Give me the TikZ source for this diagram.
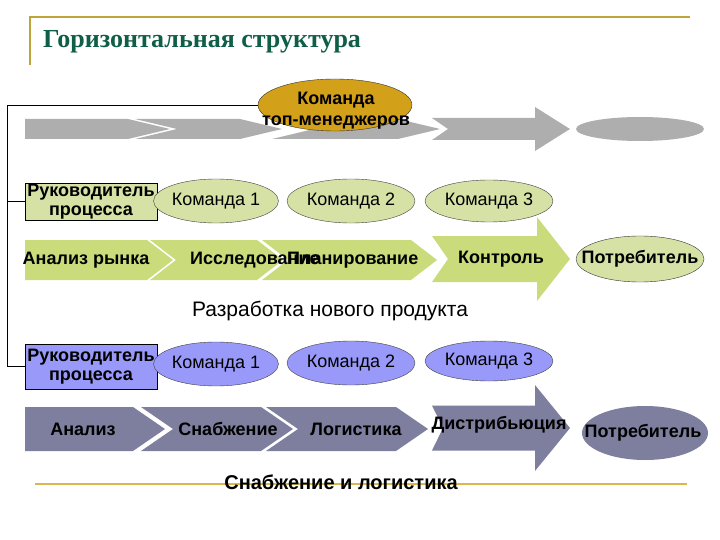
\documentclass[tikz,border=0pt]{standalone}
\usepackage{fontspec}
\setmainfont{Liberation Serif}
\setsansfont{Liberation Sans}
\usetikzlibrary{shapes.geometric}

\definecolor{titlegreen}{HTML}{0F5E48}
\definecolor{rulegold}{HTML}{BFA43C}
\definecolor{linegold}{HTML}{D8B74C}
\definecolor{topgold}{HTML}{D2A019}
\definecolor{flowgray}{HTML}{AEAEAE}
\definecolor{leafgreen}{HTML}{D6E1A6}
\definecolor{flowgreen}{HTML}{C9DB7A}
\definecolor{teamblue}{HTML}{9999FA}
\definecolor{flowslate}{HTML}{7E7E9E}

\tikzset{x=1pt, y=-1pt,
  team/.style={ellipse, draw=black!75, inner sep=0pt, minimum height=44pt,
    font=\sffamily\fontsize{18}{20}\selectfont},
  lead/.style={draw=black, rectangle, align=center, inner sep=0pt, minimum width=132pt,
    font=\sffamily\bfseries\fontsize{18}{19}\selectfont},
  tag/.style={inner sep=0pt, font=\sffamily\bfseries\fontsize{18}{21}\selectfont},
  caption/.style={inner sep=0pt, font=\sffamily\fontsize{21}{23}\selectfont}
}

% chevron: fill, left x, tip x, centre y, half height, tip depth, notch depth
\newcommand{\chev}[7]{\fill[#1] (#2,#4-#5) -- (#3-#6,#4-#5) -- (#3,#4) -- (#3-#6,#4+#5)
  -- (#2,#4+#5) -- (#2+#7,#4) -- cycle;}
% block arrow: fill, tail x, notch, head base x, tip x, centre y, shaft half, head half
\newcommand{\blockarr}[8]{\fill[#1] (#2,#6-#7) -- (#4,#6-#7) -- (#4,#6-#8) -- (#5,#6)
  -- (#4,#6+#8) -- (#4,#6+#7) -- (#2,#6+#7) -- (#2+#3,#6) -- cycle;}

\begin{document}
\begin{tikzpicture}
\useasboundingbox (0,0) rectangle (720,540);

% title
\draw[rulegold, line width=1.6pt] (30,65) -- (30,17) -- (690,17);
\node[anchor=west, inner sep=0pt, text=titlegreen,
  font=\bfseries\fontsize{26}{30}\selectfont] (title) at (43,42) {Горизонтальная структура};

% grey row
\chev{flowgray}{25}{170}{129}{10}{42}{0}
\chev{flowgray}{135}{282}{129}{10}{42}{42}
\chev{flowgray}{272}{440}{129}{10}{42}{42}
\blockarr{flowgray}{432}{16}{535}{570}{129}{11}{22}
\node[ellipse, fill=flowgray, minimum width=128pt, minimum height=24pt] (sink0) at (640,129) {};

% process leads and teams
\node[lead, fill=leafgreen, minimum height=37pt] (lead1) at (91,201.5) {Руководитель\\процесса};
\node[team, fill=leafgreen, minimum width=122pt] (t11) at (216,201) {Команда 1};
\node[team, fill=leafgreen, minimum width=128pt] (t12) at (351,201) {Команда 2};
\node[team, fill=leafgreen, minimum width=128pt, minimum height=42pt] (t13) at (489,201) {Команда 3};

\node[lead, fill=teamblue, minimum height=45pt] (lead2) at (91,366.5) {Руководитель\\процесса};
\node[team, fill=teamblue, minimum width=122pt] (t21) at (216,364) {Команда 1};
\node[team, fill=teamblue, minimum width=128pt] (t22) at (351,363) {Команда 2};
\node[team, fill=teamblue, minimum width=128pt, minimum height=40pt] (t23) at (489,361) {Команда 3};

% top team and its links
\node[ellipse, draw=black!80, fill=topgold, minimum width=154pt, minimum height=52pt] (top) at (335,105) {};
\coordinate (rail) at (7,105);
\draw[line width=0.8pt] (top.west) -- (rail) |- (lead2.west);
\draw[line width=0.8pt] (rail |- lead1.west) -- (lead1.west);
\node[tag, align=center] (toptext) at (336,111) {Команда\\топ-менеджеров};

% new product row
\chev{flowgreen}{25}{173}{260}{20}{26}{0}
\chev{flowgreen}{150}{283}{260}{20}{26}{26}
\chev{flowgreen}{262}{437}{260}{20}{26}{26}
\blockarr{flowgreen}{432}{16}{537}{570}{259}{23}{42}
\node[ellipse, draw=black!80, fill=leafgreen, minimum width=128pt, minimum height=46pt] (sink1) at (640,259) {};
\node[tag] (p1) at (86,260) {Анализ рынка};
\node[tag, anchor=west] (p2) at (190,260) {Исследование};
\node[tag, anchor=west] (p3) at (287,260) {Планирование};
\node[tag] (p4) at (501,259) {Контроль};
\node[tag] (p5) at (640,259) {Потребитель};
\node[caption] (cap1) at (330,311) {Разработка нового продукта};

% supply row
\chev{flowslate}{25}{165}{429}{22}{32}{0}
\chev{flowslate}{141}{293}{429}{22}{32}{32}
\chev{flowslate}{266}{428}{429}{22}{32}{32}
\blockarr{flowslate}{432}{11}{535}{570}{428}{22.5}{43}
\node[ellipse, fill=flowslate, minimum width=126pt, minimum height=54pt] (sink2) at (645,433) {};
\node[tag] (s1) at (83,429) {Анализ};
\node[tag] (s2) at (228,429) {Снабжение};
\node[tag] (s3) at (356,429) {Логистика};
\node[tag] (s4) at (499,425) {Дистрибьюция};
\node[tag] (s5) at (643,433) {Потребитель};

\draw[linegold, line width=2pt] (35,484) -- (687,484);
\node[tag, font=\sffamily\bfseries\fontsize{20}{22}\selectfont] (cap2) at (341,482) {Снабжение и логистика};
\end{tikzpicture}
\end{document}
